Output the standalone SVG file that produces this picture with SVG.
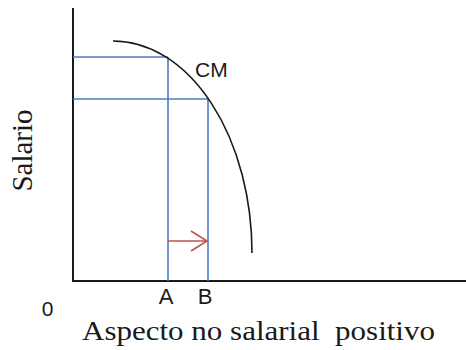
<svg xmlns="http://www.w3.org/2000/svg" width="466" height="350" viewBox="0 0 466 350">
<style>
.axis{stroke:#1a1a1a;stroke-width:2;fill:none}
.guide{stroke:#4a7dc4;stroke-width:1.6;fill:none}
.curve{stroke:#1a1a1a;stroke-width:1.6;fill:none}
.shift{stroke:#c0504d;stroke-width:1.6;fill:none}
.sans{font-family:"Liberation Sans","Open Sans",sans-serif;fill:#1a1a1a}
.serif{font-family:"Liberation Serif","DejaVu Serif",serif;fill:#1a1a1a}
</style>
<rect width="466" height="350" fill="#ffffff"/>
<g id="axes">
<line class="axis" x1="73" y1="8" x2="73" y2="281"/>
<line class="axis" x1="72" y1="281" x2="466" y2="281"/>
</g>
<g id="connectors">
<line class="guide" x1="73" y1="57" x2="168" y2="57"/>
<line class="guide" x1="73" y1="99" x2="208" y2="99"/>
<line class="guide" x1="168" y1="57" x2="168" y2="281"/>
<line class="guide" x1="208" y1="99" x2="208" y2="281"/>
<line class="shift" x1="168" y1="241" x2="207" y2="241"/>
<polyline class="shift" points="191,231 207,241 191,251"/>
</g>
<g id="curve-CM">
<path class="curve" d="M113,41 A139,212 0 0 1 252,253"/>
<text class="sans" x="195" y="77" font-size="21">CM</text>
</g>
<g id="label-A"><text class="sans" x="166" y="304" font-size="22" text-anchor="middle">A</text></g>
<g id="label-B"><text class="sans" x="205" y="304" font-size="22" text-anchor="middle">B</text></g>
<g id="label-0"><text class="sans" x="47.5" y="316" font-size="21" text-anchor="middle">0</text></g>
<g id="y-label"><text class="serif" x="0" y="0" font-size="29" text-anchor="middle" transform="translate(32,150.5) rotate(-90)">Salario</text></g>
<g id="x-label"><text class="serif" x="82" y="340" font-size="27" textLength="353" lengthAdjust="spacingAndGlyphs" xml:space="preserve">Aspecto no salarial  positivo</text></g>
</svg>
